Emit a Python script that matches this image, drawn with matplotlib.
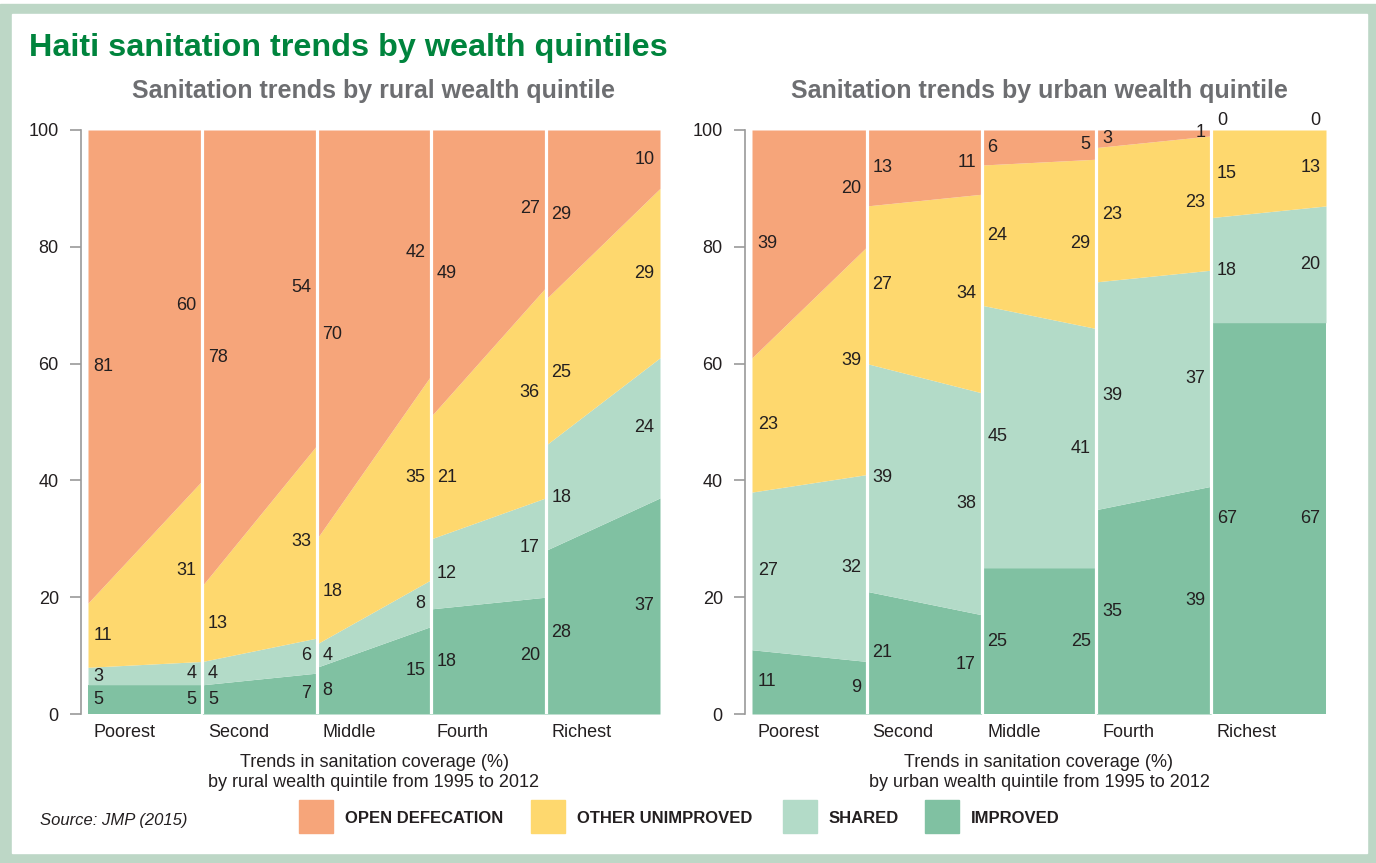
import numpy as np
import matplotlib
matplotlib.use("Agg")
import matplotlib.pyplot as plt
from matplotlib.patches import Rectangle

# ── Data (1995, 2012) per quintile ───────────────────────────────────────────
quintiles  = ["Poorest", "Second", "Middle", "Fourth", "Richest"]
categories = ["IMPROVED", "SHARED", "OTHER UNIMPROVED", "OPEN DEFECATION"]
colors     = ["#80C1A2", "#B3DBC8", "#FED86E", "#F6A57A"]

rural_improved  = [(5, 5), (5, 7), (8, 15), (18, 20), (28, 37)]
rural_shared    = [(3, 4), (4, 6), (4, 8), (12, 17), (18, 24)]
rural_other     = [(11, 31), (13, 33), (18, 35), (21, 36), (25, 29)]
rural_open      = [(81, 60), (78, 54), (70, 42), (49, 27), (29, 10)]

urban_improved  = [(11, 9), (21, 17), (25, 25), (35, 39), (67, 67)]
urban_shared    = [(27, 32), (39, 38), (45, 41), (39, 37), (18, 20)]
urban_other     = [(23, 39), (27, 34), (24, 29), (23, 23), (15, 13)]
urban_open      = [(39, 20), (13, 11), (6, 5), (3, 1), (0, 0)]

W, H = 1376, 863
DARK = "#231F20"

plt.rcParams.update({"font.family": ["Liberation Sans", "DejaVu Sans"], "font.size": 13})

fig = plt.figure(figsize=(W / 100, H / 100), dpi=100)


def fx(px):
    return px / W


def fy(py):
    return 1 - py / H


# ── Frame ────────────────────────────────────────────────────────────────────
fig.patches.append(Rectangle((0, 0), 1, fy(4), transform=fig.transFigure,
                             color="#BDD7C6", zorder=-10))
fig.patches.append(Rectangle((fx(12), fy(853)), fx(1367) - fx(12), fy(14) - fy(853),
                             transform=fig.transFigure, color="white", zorder=-9))

fig.text(fx(29), fy(48), "Haiti sanitation trends by wealth quintiles",
         color="#00843D", fontsize=23.3, fontweight="bold", va="center", ha="left")


def draw_panel(ax, series, subtitle, area):
    x = np.array([0.0, 1.0])
    for i, q in enumerate(quintiles):
        base = np.zeros(2)
        for s, col in zip(series, colors):
            vals = np.array(s[i], dtype=float)
            top = base + vals
            ax.fill_between(x + i, base, top, color=col, lw=0)
            for j, (xx, ha) in enumerate([(i + 0.05, "left"), (i + 0.95, "right")]):
                if vals[j] == 0:
                    ax.text(xx, 100.2, f"{int(vals[j])}", ha=ha, va="bottom",
                            fontsize=13, color=DARK)
                else:
                    ax.text(xx, (base[j] + top[j]) / 2, f"{int(vals[j])}",
                            ha=ha, va="center", fontsize=13, color=DARK)
            base = top
        ax.text(i + 0.05, -3.2, q, ha="left", va="center", fontsize=13, color=DARK)
    for b in range(1, 5):
        ax.axvline(b, color="white", lw=2.3)
    ax.set_xlim(0, 5)
    ax.set_ylim(0, 100)
    ax.set_xticks([])
    ax.set_yticks([0, 20, 40, 60, 80, 100])
    ax.tick_params(axis="y", length=8, width=1.2, color="#9A9A9A", pad=8,
                   labelsize=13, labelcolor=DARK)
    for sp in ["top", "right", "bottom"]:
        ax.spines[sp].set_visible(False)
    ax.spines["left"].set_position(("outward", 5))
    ax.spines["left"].set_color("#9A9A9A")
    ax.spines["left"].set_linewidth(1.2)
    ax.set_title(subtitle, color="#6D6E71", fontsize=18, fontweight="bold", pad=23)
    ax.text(2.5, -10.0, "Trends in sanitation coverage (%)\nby " + area +
            " wealth quintile from 1995 to 2012", ha="center", va="center",
            fontsize=13, color=DARK, linespacing=1.22)


ax1 = fig.add_axes([fx(88), fy(714), fx(660) - fx(88), fy(130) - fy(714)])
ax2 = fig.add_axes([fx(752), fy(714), fx(1326) - fx(752), fy(130) - fy(714)])
draw_panel(ax1, [rural_improved, rural_shared, rural_other, rural_open],
           "Sanitation trends by rural wealth quintile", "rural")
draw_panel(ax2, [urban_improved, urban_shared, urban_other, urban_open],
           "Sanitation trends by urban wealth quintile", "urban")

# ── Legend ───────────────────────────────────────────────────────────────────
fig.text(fx(40), fy(820), "Source: JMP (2015)", style="italic", fontsize=12,
         color=DARK, va="center")
leg_x = [299, 531, 783, 925]
for lx, lab, col in zip(leg_x, categories[::-1], colors[::-1]):
    fig.patches.append(Rectangle((fx(lx), fy(833)), fx(34), fy(800) - fy(833),
                                 transform=fig.transFigure, color=col))
    fig.text(fx(lx + 46), fy(818), lab, fontsize=12, fontweight="bold",
             color=DARK, va="center", ha="left")

fig.savefig("out.png", dpi=100)
